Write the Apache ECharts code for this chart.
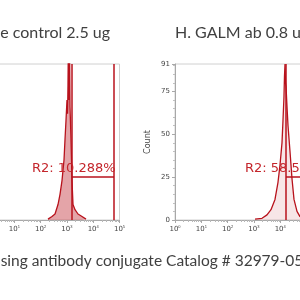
<!DOCTYPE html>
<html>
  <head>
    <meta charset="utf-8" />
    <title>GALM flow histograms</title>
    <style>
      html, body { margin: 0; padding: 0; background: #fff; }
      #main { width: 300px; height: 300px; }
    </style>
  </head>
  <body>
    <script src="https://cdn.jsdelivr.net/npm/echarts@6/dist/echarts.min.js"></script>
    <div id="main"></div>
    <script>
      // values (x = fluorescence, y = count)
      var leftBins = [191, 271, 353, 459, 547, 651, 776, 847, 924, 1009, 1060, 1101, 1151, 1202, 1256, 1312, 1432, 1563, 1706, 2033, 2642, 3750, 5324];
      var leftCounts = [0.5, 2, 3.5, 9, 15, 23, 35, 47, 58, 70, 62, 79, 110, 70, 104, 66, 47, 23, 9, 6, 3.5, 2, 0.5];
      var rightBins = [1101, 2033, 3148, 4467, 6339, 8246, 9820, 11700, 12770, 13930, 14560, 15230, 15920, 16630, 18150, 19820, 23600, 28120, 33480, 43540, 56600, 80300];
      var rightCounts = [0.5, 1, 3, 6, 12, 22, 32, 45, 58, 72, 84, 91, 80, 78, 66, 55, 40, 24, 12, 5, 2, 0.5];

      var titles = ['Isotype control 2.5 ug', 'H. GALM ab 0.8 ug'];
      var caption = 'using antibody conjugate Catalog # 32979-05';
      var gateNames = ['R2: 10.288%', 'R2: 58.57%'];
      var gateLeft = [1560, 62000];
      var gateRight = [16600, 62000];
      var gateLevel = 25;
      var gateLabelAt = [[47, 29.7], [459, 29.7]];
      var yTop = 91;

      var red = '#b8121c';
      var textRed = '#c4262c';
      var grey = '#404040';

      function pairs(xs, ys) {
        return xs.map(function (x, i) { return [x, ys[i]]; });
      }

      function xAxisFor(idx) {
        return {
          type: 'log', logBase: 10, min: 1, max: 100000, gridIndex: idx,
          axisLine: { lineStyle: { color: '#a8a8a8' } },
          axisTick: { length: 3, lineStyle: { color: '#a8a8a8' } },
          minorTick: { show: true, splitNumber: 8, length: 2, lineStyle: { color: '#b8b8b8' } },
          splitLine: { show: false },
          axisLabel: {
            margin: 5,
            formatter: function (v) {
              return '{b|10}{s|' + Math.round(Math.log10(v)) + '}';
            },
            rich: {
              b: { fontSize: 7, color: '#444', fontFamily: 'DejaVu Sans' },
              s: { fontSize: 4, color: '#444', verticalAlign: 'top', padding: [0, 0, 4, 0] }
            }
          }
        };
      }

      function yAxisFor(idx) {
        return {
          type: 'value', min: 0, max: yTop, interval: 25, gridIndex: idx,
          name: 'Count', nameLocation: 'middle', nameGap: 23,
          nameTextStyle: { fontSize: 8, color: '#444', fontFamily: 'DejaVu Sans' },
          axisLine: { show: true, lineStyle: { color: '#a8a8a8' } },
          axisTick: { show: true, length: 3, lineStyle: { color: '#a8a8a8' } },
          minorTick: { show: true, splitNumber: 5, length: 2, lineStyle: { color: '#c0c0c0' } },
          splitLine: { show: false },
          axisLabel: { fontSize: 7, color: '#444', margin: 5, fontFamily: 'DejaVu Sans' }
        };
      }

      function histSeries(idx, data, gate, label, at, fill) {
        return {
          type: 'line', xAxisIndex: idx, yAxisIndex: idx,
          data: data, symbol: 'none', smooth: false,
          lineStyle: { color: red, width: 1.3 },
          areaStyle: { color: fill },
          markLine: {
            silent: true, symbol: 'none', animation: false,
            lineStyle: { color: red, width: 1.5, type: 'solid' },
            label: { show: false },
            data: [
              { xAxis: gate[0] },
              { xAxis: gate[1] },
              [{ coord: [gate[0], gateLevel] }, { coord: [gate[1], gateLevel] }]
            ]
          },
          markPoint: {
            silent: true, symbol: 'circle', symbolSize: 0, animation: false,
            label: {
              show: true, position: 'right', distance: 0,
              color: textRed, fontSize: 13, fontFamily: 'DejaVu Sans',
              formatter: label
            },
            data: [{ coord: at }]
          }
        };
      }

      var chart = echarts.init(document.getElementById('main'));
      chart.setOption({
        animation: false,
        graphic: [
          { type: 'text', x: 110, y: 33, style: { text: titles[0], align: 'right', verticalAlign: 'middle', fontSize: 16, fontFamily: 'Lato', fill: grey } },
          { type: 'text', x: 175, y: 33, style: { text: titles[1], align: 'left', verticalAlign: 'middle', fontSize: 16, fontFamily: 'Lato', fill: grey } },
          { type: 'text', x: -8, y: 261, style: { text: caption, align: 'left', verticalAlign: 'middle', fontSize: 15.5, fontFamily: 'Lato', fill: grey } }
        ],
        grid: [
          { left: -12, top: 64, width: 131.5, height: 156, outerBoundsMode: 'none', containLabel: false, show: true, borderColor: '#d0d0d0', borderWidth: 1 },
          { left: 175, top: 64, width: 131.5, height: 156, outerBoundsMode: 'none', containLabel: false, show: true, borderColor: '#d0d0d0', borderWidth: 1 }
        ],
        xAxis: [xAxisFor(0), xAxisFor(1)],
        yAxis: [yAxisFor(0), yAxisFor(1)],
        series: [
          histSeries(0, pairs(leftBins, leftCounts), gateLeft, gateNames[0], gateLabelAt[0], 'rgba(184,18,28,0.55)'),
          histSeries(1, pairs(rightBins, rightCounts), gateRight, gateNames[1], gateLabelAt[1], 'rgba(184,18,28,0.15)')
        ]
      });
    </script>
  </body>
</html>
